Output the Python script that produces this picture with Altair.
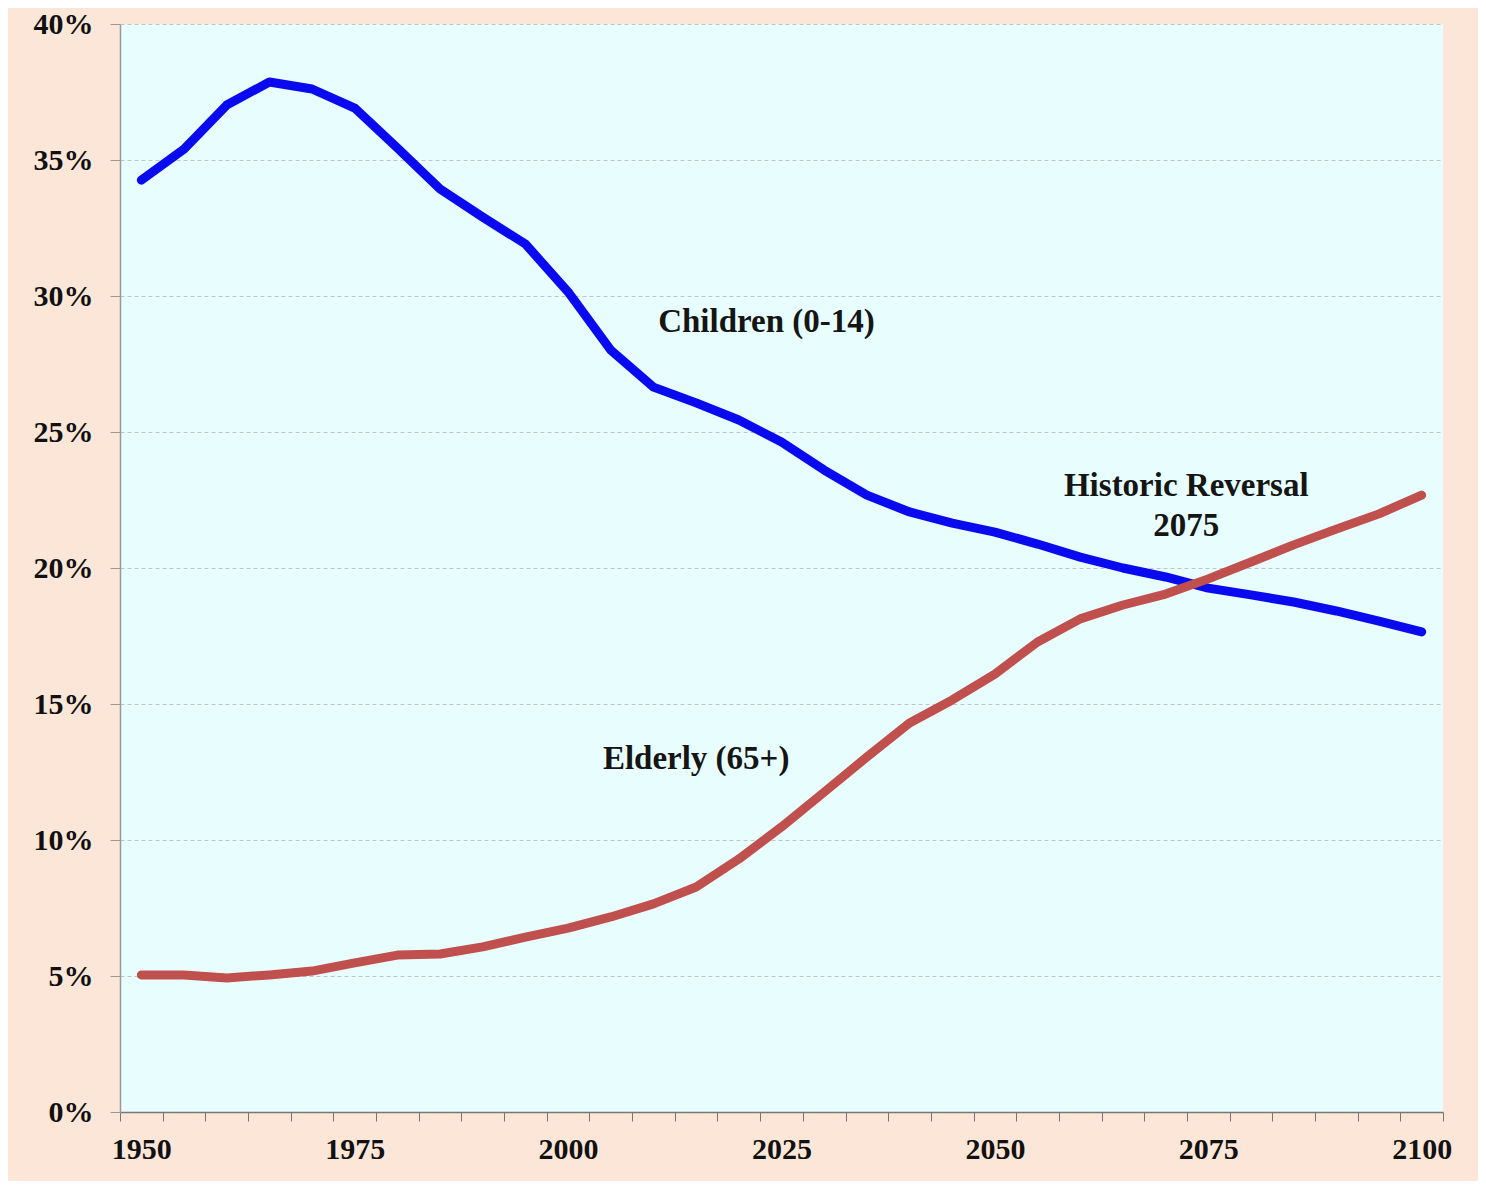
import altair as alt
import pandas as pd

years = list(range(1950, 2101, 5))
children = [34.26, 35.40, 37.02, 37.87, 37.61, 36.91, 35.44, 33.93, 32.90, 31.91,
            30.15, 28.01, 26.65, 26.07, 25.44, 24.63, 23.60, 22.68, 22.06, 21.65,
            21.32, 20.88, 20.40, 20.00, 19.67, 19.26, 19.01, 18.75, 18.42, 18.05, 17.65]
elderly = [5.04, 5.04, 4.93, 5.04, 5.18, 5.48, 5.77, 5.81, 6.07, 6.43,
           6.76, 7.17, 7.65, 8.27, 9.30, 10.48, 11.76, 13.05, 14.30, 15.15,
           16.10, 17.28, 18.13, 18.64, 19.04, 19.60, 20.22, 20.85, 21.43, 21.99, 22.68]
series_names = ["Children (0-14)", "Elderly (65+)"]
series_colors = ["#0A0AF0", "#C0504D"]
y_ticks = [0, 5, 10, 15, 20, 25, 30, 35, 40]

ann_text = ["Children (0-14)", "Historic Reversal\n2075", "Elderly (65+)"]
ann_year = [2025, 2075, 2015]
ann_value = [29.05, 23.0, 12.98]
ann_dx = [-15, -22, 0]

df = pd.DataFrame({
    "year": years * 2,
    "value": children + elderly,
    "series": [series_names[0]] * len(years) + [series_names[1]] * len(years),
})
ann = pd.DataFrame({"text": ann_text, "year": ann_year, "value": ann_value})

FONT = "Liberation Serif"

x_enc = alt.X(
    "year:O",
    scale=alt.Scale(type="band", paddingInner=0, paddingOuter=0, domain=years),
    axis=alt.Axis(
        title=None, tickBand="extent", labelAngle=0, grid=False,
        labelExpr="datum.value % 25 == 0 ? datum.label : ''",
        tickSize=9, tickColor="#777777", domainColor="#777777", domainWidth=1.5,
        labelPadding=13, labelFont=FONT, labelFontSize=30, labelFontWeight="bold",
        labelColor="#111111",
    ),
)
y_enc = alt.Y(
    "value:Q",
    scale=alt.Scale(domain=[0, 40], nice=False, zero=True),
    axis=alt.Axis(
        title=None, values=y_ticks, labelExpr="datum.value + '%'",
        tickSize=10, tickColor="#999999", domainColor="#999999", domainWidth=1.5,
        gridColor="#C4C4C4", gridDash=[4, 3], gridWidth=1,
        labelPadding=17, labelFont=FONT, labelFontSize=30, labelFontWeight="bold",
        labelColor="#111111",
    ),
)

lines = alt.Chart(df).mark_line(strokeWidth=9, strokeCap="round", strokeJoin="round").encode(
    x=x_enc,
    y=y_enc,
    color=alt.Color("series:N", scale=alt.Scale(domain=series_names, range=series_colors), legend=None),
)

texts = []
for t, dx in zip(ann_text, ann_dx):
    texts.append(
        alt.Chart(ann).transform_filter(alt.datum.text == t).mark_text(
            font=FONT, fontSize=33, fontWeight="bold", color="#151515",
            align="center", baseline="middle", dx=dx, lineBreak="\n", lineHeight=40,
        ).encode(x=alt.X("year:O"), y=alt.Y("value:Q"), text="text:N")
    )

chart = alt.layer(lines, *texts).properties(
    width=1323, height=1088,
    autosize=alt.AutoSizeParams(type="none"),
    padding={"left": 112, "top": 16, "right": 35, "bottom": 69},
).configure(background="#FCE6D8").configure_view(fill="#E8FEFE", stroke=None)

chart.save("out.html", embed_options={"renderer": "svg", "actions": False})
